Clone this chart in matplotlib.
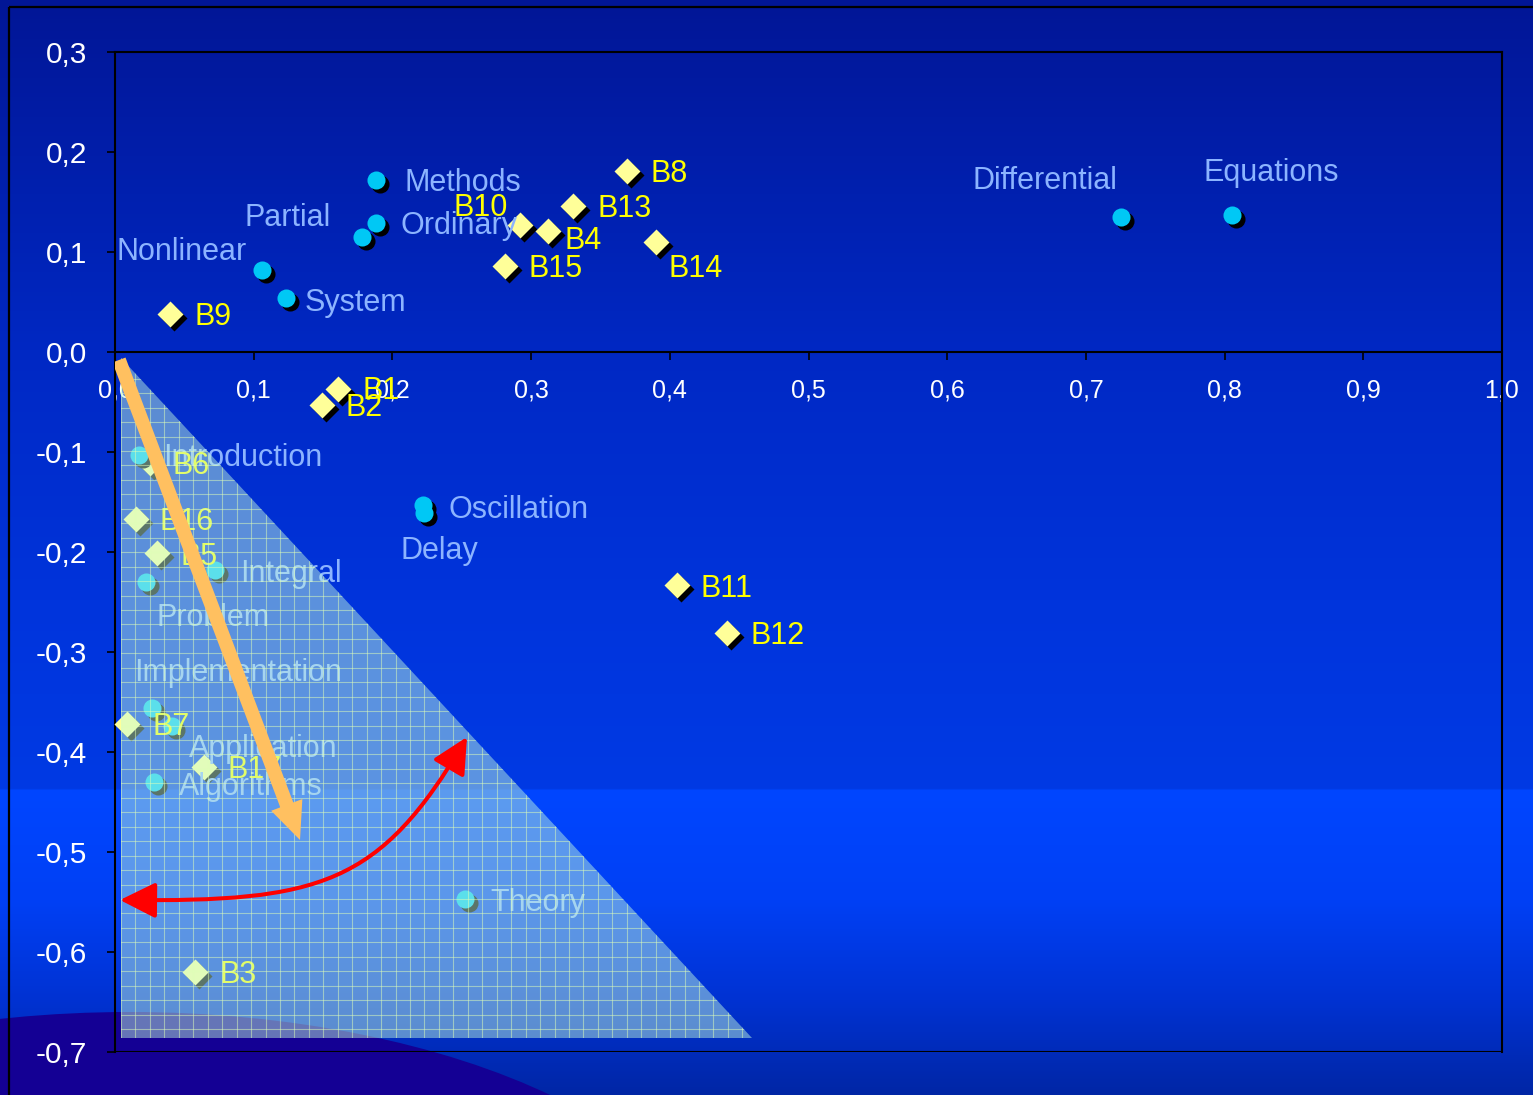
import numpy as np
import matplotlib
matplotlib.use("Agg")
import matplotlib.pyplot as plt
from matplotlib.patches import Polygon, Ellipse, FancyArrowPatch
from matplotlib.path import Path
from matplotlib import transforms

plt.rcParams['font.family'] = ['Liberation Sans', 'DejaVu Sans']

# ---------------- data ----------------
term_names = ["Methods", "Ordinary", "Partial", "Nonlinear", "System",
              "Differential", "Equations", "Oscillation", "Delay",
              "Introduction", "Integral", "Problem", "Implementation",
              "Application", "Algorithms", "Theory"]
term_x = [0.188, 0.188, 0.178, 0.106, 0.123, 0.725, 0.805, 0.222, 0.223,
          0.017, 0.072, 0.022, 0.027, 0.041, 0.028, 0.252]
term_y = [0.172, 0.129, 0.115, 0.082, 0.054, 0.135, 0.137, -0.153, -0.161,
          -0.103, -0.218, -0.230, -0.356, -0.374, -0.430, -0.547]

doc_names = ["B8", "B13", "B10", "B4", "B15", "B14", "B9", "B1", "B2", "B6",
             "B16", "B5", "B7", "B17", "B11", "B12", "B3"]
doc_x = [0.369, 0.330, 0.292, 0.312, 0.281, 0.390, 0.040, 0.161, 0.149, 0.025,
         0.015, 0.030, 0.009, 0.064, 0.405, 0.441, 0.058]
doc_y = [0.181, 0.146, 0.127, 0.121, 0.086, 0.110, 0.038, -0.037, -0.053, -0.111,
         -0.167, -0.201, -0.372, -0.415, -0.233, -0.281, -0.620]

x_ticks = [0.0, 0.1, 0.2, 0.3, 0.4, 0.5, 0.6, 0.7, 0.8, 0.9, 1.0]
x_tick_labels = ["0,0", "0,1", "0,2", "0,3", "0,4", "0,5", "0,6", "0,7", "0,8", "0,9", "1,0"]
y_ticks = [-0.7, -0.6, -0.5, -0.4, -0.3, -0.2, -0.1, 0.0, 0.1, 0.2, 0.3]
y_tick_labels = ["-0,7", "-0,6", "-0,5", "-0,4", "-0,3", "-0,2", "-0,1", "0,0", "0,1", "0,2", "0,3"]

# label placement (pixel offsets: dx, dy-down, horizontal alignment)
term_label_pos = {
    "Methods": (29, 0, "left"), "Ordinary": (25, 0, "left"),
    "Partial": (-31, -22, "right"), "Nonlinear": (-15, -21, "right"),
    "System": (19, 2, "left"), "Differential": (-3, -39, "right"),
    "Equations": (-28, -45, "left"), "Oscillation": (26, 2, "left"),
    "Delay": (-24, 35, "left"), "Introduction": (25, 0, "left"),
    "Integral": (25, 1, "left"), "Problem": (11, 33, "left"),
    "Implementation": (-18, -38, "left"), "Application": (17, 20, "left"),
    "Algorithms": (25, 2, "left"), "Theory": (26, 1, "left"),
}
doc_label_pos = {
    "B8": (24, 0, "left"), "B13": (25, 0, "left"), "B10": (-12, -20, "right"),
    "B4": (17, 7, "left"), "B15": (24, 0, "left"), "B14": (13, 24, "left"),
    "B9": (24, 0, "left"), "B1": (24, -1, "left"), "B2": (24, 0, "left"),
    "B6": (23, 0, "left"), "B16": (24, 0, "left"), "B5": (24, 1, "left"),
    "B7": (25, 0, "left"), "B17": (24, 0, "left"), "B11": (24, 1, "left"),
    "B12": (24, 0, "left"), "B3": (24, 0, "left"),
}
LABEL_SHIFT = 3  # pixels downwards for visual centring

W, H = 1533, 1095
fig = plt.figure(figsize=(W / 100, H / 100), dpi=100)

# ---------------- slide background ----------------
bg = fig.add_axes([0, 0, 1, 1], zorder=-10)
rows = np.arange(H) + 0.5
sy = [0, 350, 600, 789, 790, 900, 1000, 1095]
sr = [2, 0, 0, 0, 0, 0, 0, 0]
sg = [22, 40, 52, 58, 70, 64, 50, 38]
sb = [150, 195, 220, 228, 255, 245, 210, 165]
grad = np.stack([np.interp(rows, sy, sr), np.interp(rows, sy, sg),
                 np.interp(rows, sy, sb)], axis=1) / 255.0
img = np.repeat(grad[:, None, :], 4, axis=1)
bg.imshow(img, extent=(0, W, H, 0), aspect="auto", interpolation="bilinear")
bg.add_patch(Ellipse((130, 1302), 1200, 580, color="#140094", lw=0))
bg.plot([9, 9], [H, 7], color="black", lw=1.6, solid_capstyle="butt")
bg.plot([9, W], [7, 7], color="black", lw=1.6, solid_capstyle="butt")
bg.set_xlim(0, W)
bg.set_ylim(H, 0)
bg.axis("off")

# ---------------- main axes ----------------
ax = fig.add_axes([115 / W, (H - 1052) / H, 1387 / W, 1000 / H])
ax.set_facecolor("none")
ax.set_xlim(0, 1)
ax.set_ylim(-0.7, 0.3)
for s in ax.spines.values():
    s.set_color("black")
    s.set_linewidth(1.5)
ax.spines["bottom"].set_position(("data", 0))
ax.axhline(-0.7, color="black", lw=1.5, zorder=2.6)
ax.set_xticks(x_ticks, labels=x_tick_labels)
ax.set_yticks(y_ticks, labels=y_tick_labels)
ax.tick_params(axis="x", direction="out", length=6, width=1.2, color="black",
               labelsize=18, labelcolor="white", pad=13)
ax.tick_params(axis="y", direction="out", length=6, width=1.2, color="black",
               labelsize=21.5, labelcolor="white", pad=14)

# shadows + markers
shadow_tr = transforms.offset_copy(ax.transData, fig=fig, x=4, y=-4, units="dots")
ax.plot(doc_x, doc_y, "D", ms=13.7, color="black", mec="none", transform=shadow_tr,
        zorder=3, clip_on=False)
ax.plot(doc_x, doc_y, "D", ms=13.7, color="#ffff99", mec="none", zorder=3.2, clip_on=False)
ax.plot(term_x, term_y, "o", ms=13, color="black", mec="none", transform=shadow_tr,
        zorder=3.4, clip_on=False)
ax.plot(term_x, term_y, "o", ms=13, color="#00c8f5", mec="none", zorder=3.6, clip_on=False)

for name, x, y in zip(term_names, term_x, term_y):
    dx, dy, ha = term_label_pos[name]
    ax.annotate(name, (x, y), xytext=(dx, -(dy + LABEL_SHIFT)), textcoords="offset pixels",
                ha=ha, va="center", fontsize=22, color="#8cb4ff", zorder=4)
for name, x, y in zip(doc_names, doc_x, doc_y):
    dx, dy, ha = doc_label_pos[name]
    ax.annotate(name, (x, y), xytext=(dx, -(dy + LABEL_SHIFT)), textcoords="offset pixels",
                ha=ha, va="center", fontsize=22, color="#ffff00", zorder=4)

# ---------------- translucent gridded triangle ----------------
def px2d(px, py):
    return ((px - 115) / 1387.0, (352 - py) / 1000.0)

tri_pts = [px2d(121, 358), px2d(121, 1038), px2d(752, 1038)]
tri = Polygon(tri_pts, closed=True, facecolor=(0.76, 0.98, 0.88), alpha=0.47,
              edgecolor="none", zorder=6)
ax.add_patch(tri)
gx = [px2d(121 + 14.45 * k, 0)[0] for k in range(45)]
gy = [px2d(0, 1029 - 14.45 * k)[1] for k in range(48)]
vl = ax.vlines(gx, -0.7, 0.0, colors="#e0ffb8", lw=0.8, alpha=0.5, zorder=6.5)
hl = ax.hlines(gy, 0.0, 0.5, colors="#e0ffb8", lw=0.8, alpha=0.5, zorder=6.5)
clip_tri = Polygon(tri_pts, closed=True, transform=ax.transData)
vl.set_clip_path(clip_tri)
hl.set_clip_path(clip_tri)

# ---------------- arrows ----------------
orange = FancyArrowPatch(px2d(119, 360), px2d(300, 840),
                         arrowstyle="simple,head_length=1.35,head_width=1.2,tail_width=0.5",
                         mutation_scale=20, color="#ffc060", lw=0,
                         shrinkA=0, shrinkB=0, zorder=8)
ax.add_patch(orange)

red_verts = [px2d(120, 900), px2d(320, 902), px2d(380, 885), px2d(467, 737)]
red_path = Path(red_verts, [Path.MOVETO, Path.CURVE4, Path.CURVE4, Path.CURVE4])
red = FancyArrowPatch(path=red_path,
                      arrowstyle="<|-|>,head_length=1.1,head_width=0.55",
                      mutation_scale=20, color="#ff0000", lw=2.9, zorder=8)
ax.add_patch(red)

fig.savefig("out.png", dpi=100)
